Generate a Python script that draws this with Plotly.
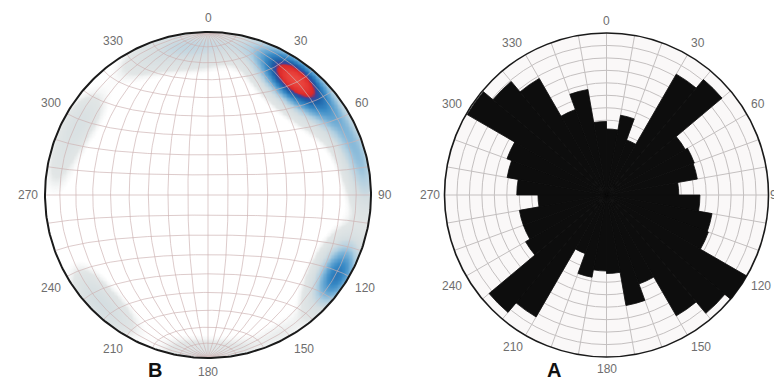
import numpy as np
import plotly.graph_objects as go

# ---------------- data ----------------
# Rose diagram (panel A): 10-degree bins, azimuth of bin start
rose_bin_start = list(range(0, 360, 10))
rose_values = [5.3, 6.5, 4.7, 11.2, 12.1, 7.3, 7.5, 7.4, 5.8,
               7.5, 8.6, 8.7, 13.0, 12.4, 11.2, 7.6, 9.0, 6.3,
               6.1, 6.7, 5.0, 11.3, 12.3, 7.5, 7.1, 7.1, 5.5,
               7.2, 8.1, 8.5, 12.9, 11.9, 10.8, 7.3, 8.6, 5.9]
rose_rmax = 13

# Stereonet (panel B): poles to planes (trend, plunge in degrees), lower hemisphere
pole_trend = [26, 29, 31, 33, 35, 37, 39, 41, 43, 45, 36, 40, 34, 38, 48, 52, 55, 58,
              62, 66, 70, 74, 78, 82, 86, 24, 21, 46, 30,
              114, 118, 121, 123, 125, 127, 120, 130, 112, 124,
              215, 222, 228, 234,
              330, 340, 350, 358, 5, 12, 355, 345,
              278, 290, 300, 305,
              170, 182, 190, 152, 92]
pole_plunge = [10, 13, 9, 15, 12, 10, 14, 11, 13, 9, 17, 7, 6, 19, 12, 8, 16, 10,
               7, 9, 5, 7, 4, 6, 3, 5, 3, 21, 16,
               6, 9, 11, 7, 9, 5, 4, 3, 14, 13,
               6, 8, 5, 9,
               8, 12, 6, 10, 5, 8, 16, 3,
               6, 10, 8, 12,
               3, 4, 2, 5, 3]

angle_labels = [0, 30, 60, 90, 120, 150, 180, 210, 240, 270, 300, 330]

# ---------------- layout constants ----------------
W, H = 782, 380
R = 163.0          # stereonet radius in px (data units = px)
LABEL_FONT = dict(family="Liberation Sans, Arial, sans-serif", size=12, color="#6e6e6e")
GRID_COL = "rgba(205,178,178,0.85)"

fig = go.Figure()

# ---------------- stereonet density (Fisher kernel on the sphere) ----------------
kappa = 50.0
tr = np.radians(np.array(pole_trend, float))
pl = np.radians(np.array(pole_plunge, float))
ux = np.cos(pl) * np.sin(tr)
uy = np.cos(pl) * np.cos(tr)
uz = np.sin(pl)

n = 241
gx = np.linspace(-R - 2, R + 2, n)
gy = np.linspace(-R - 2, R + 2, n)
GX, GY = np.meshgrid(gx, gy)
rho2 = (GX**2 + GY**2) / R**2
inside = rho2 <= 1.0
rho2c = np.clip(rho2, 0, 1)
vz = 1 - rho2c
h = np.sqrt(np.clip(1 - vz**2, 0, 1))
rr = np.sqrt(GX**2 + GY**2)
rr[rr == 0] = 1
vx = h * GX / rr
vy = h * GY / rr
dens = np.zeros_like(GX)
for a, b, c in zip(ux, uy, uz):
    cosang = vx * a + vy * b + vz * c
    dens += np.exp(kappa * (cosang - 1))
dens = dens / dens[inside].max()
dens[rho2 > 1.03] = np.nan

cscale = [
    [0.00, "rgba(255,255,255,0)"],
    [0.05, "rgba(240,242,242,0)"],
    [0.10, "rgb(226,230,230)"],
    [0.22, "rgb(213,222,225)"],
    [0.32, "rgb(178,208,225)"],
    [0.43, "rgb(114,174,214)"],
    [0.55, "rgb(56,138,198)"],
    [0.68, "rgb(28,98,168)"],
    [0.76, "rgb(62,66,156)"],
    [0.81, "rgb(220,40,40)"],
    [1.00, "rgb(236,72,64)"],
]
fig.add_trace(go.Heatmap(x=gx, y=gy, z=dens, colorscale=cscale, zmin=0, zmax=1,
                         zsmooth="best", showscale=False, hoverinfo="skip",
                         xaxis="x", yaxis="y"))

# ---------------- stereonet grid (Schmidt equal-area) ----------------
def proj(x, y, z):
    s = np.sqrt(1 + z)
    return R * x / s, R * y / s

lx, ly = [], []
t = np.radians(np.linspace(-90, 90, 181))
for lam in range(-80, 90, 10):
    L = np.radians(lam)
    x = np.cos(t) * np.sin(L); y = np.sin(t); z = np.cos(t) * np.cos(L)
    px, py = proj(x, y, z)
    lx += list(px) + [None]; ly += list(py) + [None]
for phi in range(-80, 90, 10):
    P = np.radians(phi)
    x = np.cos(P) * np.sin(t); y = np.full_like(t, np.sin(P)); z = np.cos(P) * np.cos(t)
    px, py = proj(x, y, z)
    lx += list(px) + [None]; ly += list(py) + [None]
fig.add_trace(go.Scatter(x=lx, y=ly, mode="lines", line=dict(color=GRID_COL, width=0.8),
                         hoverinfo="skip", showlegend=False, xaxis="x", yaxis="y"))
# mask outside primitive + primitive circle
cc = np.radians(np.linspace(0, 360, 361))
fig.add_trace(go.Scatter(x=list((R + 0.5) * np.sin(cc)) + list((R + 8) * np.sin(cc[::-1])),
                         y=list((R + 0.5) * np.cos(cc)) + list((R + 8) * np.cos(cc[::-1])),
                         mode="lines", fill="toself", fillcolor="white", line=dict(width=0),
                         hoverinfo="skip", showlegend=False, xaxis="x", yaxis="y"))
fig.add_trace(go.Scatter(x=R * np.sin(cc), y=R * np.cos(cc), mode="lines",
                         line=dict(color="#1a1a1a", width=2), hoverinfo="skip",
                         showlegend=False, xaxis="x", yaxis="y"))

def label_anns(cxp, cyp, rad, xref, yref, tx, ty, gap=6, max_right=None):
    out = []
    for a in angle_labels:
        ar = np.radians(a)
        s, c = np.sin(ar), np.cos(ar)
        rl = rad + gap
        xa = "left" if s > 0.3 else ("right" if s < -0.3 else "center")
        ya = "bottom" if c > 0.3 else ("top" if c < -0.3 else "middle")
        xp = cxp + rl * s
        if max_right is not None and a == 90:
            xp, xa = max_right, "right"
        out.append(dict(x=tx(xp), y=ty(cyp + rl * c), xref=xref, yref=yref,
                        text=str(a), showarrow=False, xanchor=xa, yanchor=ya,
                        font=LABEL_FONT, borderpad=0))
    return out

ann = label_anns(0, 0, R, "x", "y", lambda v: v, lambda v: v)

# ---------------- rose diagram ----------------
fig.add_trace(go.Barpolar(
    r=rose_values,
    theta=[b + 5 for b in rose_bin_start],
    width=[10] * len(rose_values),
    marker=dict(color="#0d0d0d", line=dict(width=0.8, color="#0d0d0d")),
    hoverinfo="skip", subplot="polar"))

cx, cy, RR = 598.5, 187.0, 162.0
tickvals = list(range(0, 360, 10))

# rose labels (pixel coords -> paper)
ann += label_anns(cx, -cy, RR, "paper", "paper",
                  lambda v: v / W, lambda v: (H + v) / H, gap=4, max_right=777)

fig.update_layout(
    width=W, height=H,
    margin=dict(l=0, r=0, t=0, b=0),
    paper_bgcolor="white", plot_bgcolor="white",
    showlegend=False,
    xaxis=dict(domain=[0, 391 / W], range=[-200, 191], visible=False, fixedrange=True),
    yaxis=dict(domain=[0, 1], range=[-193, 187], visible=False, fixedrange=True),
    polar=dict(
        domain=dict(x=[(cx - RR) / W, (cx + RR) / W], y=[(H - cy - RR) / H, (H - cy + RR) / H]),
        bgcolor="#faf8f8",
        angularaxis=dict(rotation=90, direction="clockwise", tickmode="array",
                         tickvals=tickvals, showticklabels=False, ticks="",
                         showline=True, linecolor="#1a1a1a", linewidth=1.6,
                         gridcolor="#c4c0c0", gridwidth=0.8, layer="below traces"),
        radialaxis=dict(range=[0, rose_rmax], dtick=1, showticklabels=False, ticks="",
                        showline=False, gridcolor="#c4c0c0", gridwidth=0.8,
                        layer="below traces"),
    ),
    annotations=ann + [
        dict(x=147 / W, y=1 - 362 / H, xref="paper", yref="paper", text="<b>B</b>",
             xanchor="center", yanchor="middle", showarrow=False, borderpad=0,
             font=dict(family="Liberation Sans, Arial", size=20, color="#111")),
        dict(x=546 / W, y=1 - 362 / H, xref="paper", yref="paper", text="<b>A</b>",
             xanchor="center", yanchor="middle", showarrow=False, borderpad=0,
             font=dict(family="Liberation Sans, Arial", size=20, color="#111")),
    ],
)

fig.write_html("out.html")
